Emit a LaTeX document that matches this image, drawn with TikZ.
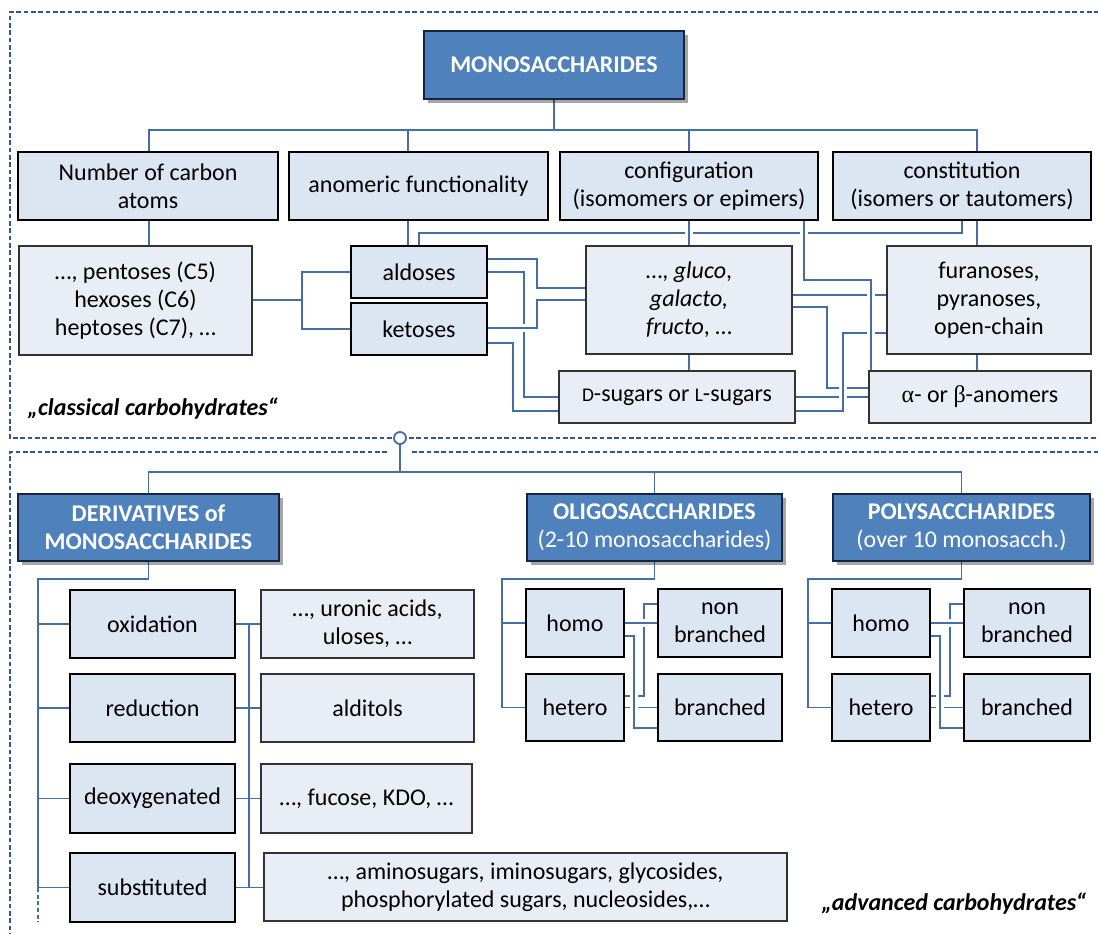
\documentclass[tikz,border=0pt]{standalone}
\usepackage{fontspec}
\setmainfont{Carlito}
\newfontfamily\greekf{Liberation Serif}
\usetikzlibrary{backgrounds,shadows}
\definecolor{cline}{RGB}{68,110,166}
\definecolor{darkfill}{RGB}{79,129,189}
\definecolor{darkedge}{RGB}{22,36,64}
\definecolor{midfill}{RGB}{220,230,242}
\definecolor{leaffill}{RGB}{233,238,246}
\definecolor{frameblue}{RGB}{47,85,151}
\newcommand\bx[7]{\node[#6, minimum width={(#4-#2)*0.75pt}, minimum height={(#5-#3)*0.75pt}] (#1) at ({(#2+#4)/2},{(#3+#5)/2}) {#7};}
\newcommand\scd[1]{{\fontsize{14.5}{14.5}\selectfont #1}}
\tikzset{
  basebox/.style={rectangle, inner sep=1pt, align=center, font=\fontsize{18}{21}\selectfont, text=black},
  darkbox/.style={basebox, fill=darkfill, draw=darkedge, line width=2pt, text=white,
     drop shadow={shadow xshift=3pt, shadow yshift=-3pt, opacity=0.35, fill=black}},
  midbox/.style={basebox, fill=midfill, draw=black, line width=1.8pt},
  leafbox/.style={basebox, fill=leaffill, draw=black!80, line width=1.2pt},
  treeline/.style={draw=cline, line width=1.4pt},
  cross/.style={treeline, preaction={draw=white, line width=6pt}},
  busdash/.style={draw=cline, line width=1.2pt, dash pattern=on 3pt off 2pt},
  frameline/.style={draw=frameblue, line width=1.1pt, dash pattern=on 3.5pt off 2pt},
  tag/.style={font=\fontsize{18}{21}\selectfont\bfseries\itshape, inner sep=1pt}
}
\begin{document}
\begin{tikzpicture}[x=0.75pt,y=-0.75pt]
\useasboundingbox (0,0) rectangle (1098,933);
% frames
\draw[frameline] (1099,12) -- (10,12) -- (10,438) -- (1099,438);
\draw[frameline] (387,452) -- (10,452) -- (10,934);
\draw[frameline] (412,452) -- (1099,452);
% top boxes
\bx{mono}{424}{31}{684}{99}{darkbox}{\bfseries MONOSACCHARIDES}
\bx{num}{18}{152}{278}{220}{midbox}{Number of carbon\\atoms}
\bx{ano}{289}{152}{548}{220}{midbox}{anomeric functionality}
\bx{cfg}{560}{152}{818}{220}{midbox}{configuration\\(isomomers or epimers)}
\bx{con}{833}{152}{1091}{220}{midbox}{constitution\\(isomers or tautomers)}
\bx{pent}{19}{246}{252}{355}{leafbox}{…, pentoses (C5)\\hexoses (C6)\\heptoses (C7), …}
\bx{ald}{351}{246}{487}{298}{midbox}{aldoses}
\bx{ket}{351}{303}{487}{355}{midbox}{ketoses}
\bx{glu}{586}{246}{792}{354}{leafbox}{…, \textit{gluco},\\\textit{galacto,}\\\textit{fructo}, …}
\bx{fur}{887}{246}{1091}{354}{leafbox}{furanoses,\\pyranoses,\\open-chain}
\bx{dsug}{559}{371}{795}{423}{leafbox}{\scd{D}-sugars or \scd{L}-sugars}
\bx{anom}{869}{371}{1091}{423}{leafbox}{{\greekf α}- or {\greekf β}-anomers}
\node[tag, anchor=west] (lab1) at (26,409) {„classical carbohydrates“};
% lower boxes
\bx{deriv}{18}{494}{279}{561}{darkbox}{\bfseries DERIVATIVES of\\\bfseries MONOSACCHARIDES}
\bx{oligo}{527}{494}{782}{561}{darkbox}{\textbf{OLIGOSACCHARIDES}\\(2-10 monosaccharides)}
\bx{poly}{833}{494}{1090}{561}{darkbox}{\textbf{POLYSACCHARIDES}\\(over 10 monosacch.)}
\bx{ox}{70}{590}{235}{658}{midbox}{oxidation}
\bx{red}{70}{674}{235}{742}{midbox}{reduction}
\bx{deox}{70}{764}{235}{833}{midbox}{deoxygenated}
\bx{sub}{70}{853}{235}{922}{midbox}{substituted}
\bx{uro}{261}{590}{474}{658}{leafbox}{…, uronic acids,\\uloses, …}
\bx{ald2}{261}{674}{474}{742}{leafbox}{alditols}
\bx{fuc}{261}{764}{472}{833}{leafbox}{…, fucose, KDO, …}
\bx{amino}{264}{853}{787}{921}{leafbox}{…, aminosugars, iminosugars, glycosides,\\phosphorylated sugars, nucleosides,…}
\bx{oho}{526}{589}{624}{657}{midbox}{homo}
\bx{ohe}{526}{674}{624}{741}{midbox}{hetero}
\bx{onb}{658}{589}{782}{657}{midbox}{non\\branched}
\bx{obr}{658}{674}{782}{741}{midbox}{branched}
\bx{pho}{832}{589}{930}{657}{midbox}{homo}
\bx{phe}{832}{674}{930}{741}{midbox}{hetero}
\bx{pnb}{964}{589}{1090}{657}{midbox}{non\\branched}
\bx{pbr}{964}{674}{1090}{741}{midbox}{branched}
\node[tag, anchor=east] (lab2) at (1088,904) {„advanced carbohydrates“};
\node[circle, draw=cline, fill=white, line width=1.4pt, minimum size=9pt, inner sep=0pt] (hub) at (400,438) {};
\begin{pgfonlayer}{background}
% top tree
\draw[treeline] (mono.south) -- (mono.south |- 0,130);
\draw[treeline] (num.north -| 149,0) -- (149,130) -| (con.north -| 977,0);
\draw[treeline] (ano.north -| 408,0) -- (408,130);
\draw[treeline] (cfg.north -| 689,0) -- (689,130);
\draw[treeline] (num.south -| 149,0) -- (pent.north -| 149,0);
\draw[treeline] (pent.east |- 0,300) -- (302,300);
\draw[treeline] (ald.west) -| (302,300) |- (ket.west);
\draw[treeline] (ano.south -| 408,0) -- (ald.north -| 408,0);
\draw[treeline] (glu.south -| 689,0) -- (dsug.north -| 689,0);
\draw[treeline] (con.south -| 977,0) -- (fur.north -| 977,0);
\draw[treeline] (fur.south -| 977,0) -- (anom.north -| 977,0);
% crossing connectors (top)
\draw[cross] (ald.north -| 419,0) |- (962,233) -- (con.south -| 962,0);
\draw[cross] (ald.east |- 0,272) -| (524,397) -- (dsug.west |- 0,397);
\draw[cross] (ket.east |- 0,343) -| (513,411) -- (dsug.west |- 0,411);
\draw[cross] (ald.east |- 0,259) -| (537,288) -- (glu.west |- 0,288);
\draw[cross] (ket.east |- 0,328) -| (537,300) -- (glu.west |- 0,300);
\draw[cross] (cfg.south -| 689,0) -- (glu.north -| 689,0);
\draw[cross] (glu.east |- 0,295) -- (fur.west |- 0,295);
\draw[cross] (glu.east |- 0,307) -| (827,388) -- (anom.west |- 0,388);
\draw[cross] (dsug.east |- 0,397) -- (anom.west |- 0,397);
\draw[cross] (dsug.east |- 0,411) -| (843,333) -- (fur.west |- 0,333);
\draw[cross] (cfg.south -| 804,0) |- (871,280) -- (anom.north -| 871,0);
% lower tree
\draw[treeline] (hub.south) -- (400,472);
\draw[treeline] (deriv.north) -- (deriv.north |- 0,472) -| (poly.north);
\draw[treeline] (oligo.north) -- (oligo.north |- 0,472);
% derivatives
\draw[treeline] (deriv.south) |- (38,579) -- (38,888);
\draw[busdash] (38,888) -- (38,922);
\draw[treeline] (38,0 |- ox.west) -- (ox.west);
\draw[treeline] (38,0 |- red.west) -- (red.west);
\draw[treeline] (38,0 |- deox.west) -- (deox.west);
\draw[treeline] (38,0 |- sub.west) -- (sub.west);
\draw[treeline] (ox.east) -- (uro.west |- ox.east);
\draw[treeline] (red.east) -- (ald2.west |- red.east);
\draw[treeline] (deox.east) -- (fuc.west |- deox.east);
\draw[treeline] (sub.east) -- (amino.west |- sub.east);
\draw[treeline] (249,0 |- ox.east) -- (249,0 |- sub.east);
% oligo
\draw[treeline] (oligo.south) |- (502,579) |- (ohe.west);
\draw[treeline] (502,0 |- oho.west) -- (oho.west);
\draw[cross] (ohe.east |- 0,696) -| (644,604) -- (onb.west |- 0,604);
\draw[cross] (oho.east) -- (onb.west |- oho.east);
\draw[cross] (ohe.east) -- (obr.west |- ohe.east);
\draw[cross] (oho.east |- 0,636) -| (634,728) -- (obr.west |- 0,728);
% poly
\draw[treeline] (poly.south) |- (808,579) |- (phe.west);
\draw[treeline] (808,0 |- pho.west) -- (pho.west);
\draw[cross] (phe.east |- 0,696) -| (950,604) -- (pnb.west |- 0,604);
\draw[cross] (pho.east) -- (pnb.west |- pho.east);
\draw[cross] (phe.east) -- (pbr.west |- phe.east);
\draw[cross] (pho.east |- 0,636) -| (940,728) -- (pbr.west |- 0,728);
\end{pgfonlayer}
\end{tikzpicture}
\end{document}
